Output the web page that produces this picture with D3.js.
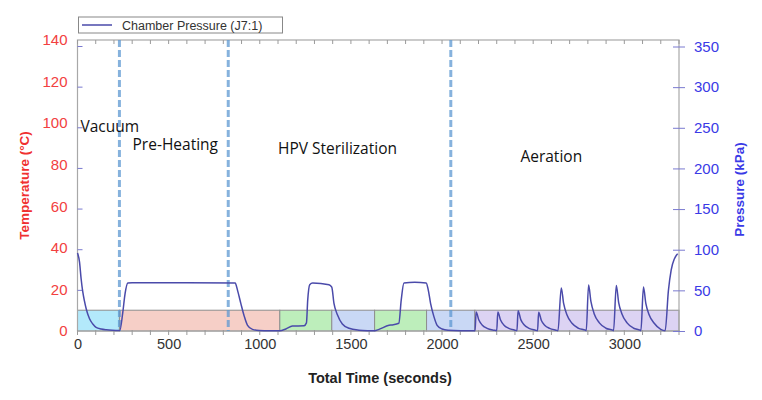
<!DOCTYPE html>
<html><head><meta charset="utf-8">
<script src="https://cdn.jsdelivr.net/npm/d3@7/dist/d3.min.js"></script>
<style>body{margin:0;background:#fff}svg{display:block}</style>
</head><body><svg id="c" width="762" height="400"></svg>
<script>
// ---- data ----
const timeTicks = [0, 500, 1000, 1500, 2000, 2500, 3000];
const tempTicks = [0, 20, 40, 60, 80, 100, 120, 140];
const pressTicks = [0, 50, 100, 150, 200, 250, 300, 350];
const phaseNames = ["Vacuum", "Pre-Heating", "HPV Sterilization", "Aeration"];
const phaseDividers = [230, 827, 2048];
const bandStart = [0, 230, 1110, 1395, 1630, 1915, 2180];
const bandEnd   = [230, 1110, 1395, 1630, 1915, 2180, 3300];
const bandColor = ["#b3e9fb", "#f6cfc7", "#bdeebb", "#c9d8f5", "#bdeebb", "#c9d8f5", "#dcd3f3"];
const bandTop = 10; // °C
const pressTime = [0, 11, 20, 29, 38, 48, 66, 84, 102, 130, 157, 190, 232,
  248, 261, 276, 300, 600, 865, 878, 896, 915, 933, 960, 997, 1050, 1110,
  1143, 1179, 1243, 1256, 1263, 1274, 1290, 1380, 1395, 1407, 1426, 1453, 1490, 1544, 1590, 1630,
  1654, 1709, 1727, 1763, 1776, 1791, 1850, 1913, 1924, 1937, 1955, 1973, 2000, 2033, 2100, 2181,
  2187, 2202, 2220, 2247, 2284, 2300,
  2306, 2321, 2339, 2366, 2400, 2411,
  2417, 2432, 2450, 2477, 2512, 2524,
  2530, 2545, 2563, 2590, 2625, 2636,
  2654, 2667, 2685, 2713, 2749, 2786, 2791,
  2804, 2817, 2835, 2863, 2899, 2936, 2941,
  2956, 2969, 2987, 3015, 3051, 3086, 3091,
  3105, 3118, 3136, 3164, 3200, 3224, 3242, 3257, 3275, 3293];
const pressKPa = [96, 85, 64, 48, 37, 27, 15, 8.6, 4.5, 2.5, 1.5, 0.8, 0.5,
  22, 46, 59, 59.5, 59.5, 59, 50, 34, 18, 7, 2, 0.6, 0.3, 0.3,
  2.5, 6, 6.5, 10, 38, 57, 59, 57, 54, 34, 20, 8.6, 3.3, 1, 0.4, 0.3,
  2, 7, 7.5, 9.5, 38, 59, 60, 59, 51, 34, 18, 7, 2.5, 1, 0.4, 0.3,
  23.5, 13.5, 7.4, 3.3, 1, 0.4,
  23.5, 13.5, 7.4, 3.3, 1, 0.4,
  25, 14, 7.6, 3.3, 1, 0.4,
  23, 13, 7.2, 3.2, 1, 0.4,
  53, 34, 20, 9.5, 3.3, 1, 0.4,
  56.5, 36, 21, 10, 3.4, 1, 0.4,
  56, 35, 21, 10, 3.4, 1, 0.4,
  54, 34, 20, 9.5, 2, 0.4, 50, 75, 89, 95];
const legendLabel = "Chamber Pressure (J7:1)";

// ---- layout ----
const svg = d3.select("#c");
const L = 77.5, R = 679, T = 40, B = 331;
const x = d3.scaleLinear().domain([0, 3300]).range([L, R]);
const yT = d3.scaleLinear().domain([0, 140]).range([B, T]);
const yP = d3.scaleLinear().domain([0, 358]).range([B, T]);
const lineCol = "#4a4aaa";

// bands
svg.append("g").selectAll("rect").data(bandStart).join("rect")
  .attr("x", (d) => x(d)).attr("width", (d, i) => x(bandEnd[i]) - x(d))
  .attr("y", yT(bandTop)).attr("height", yT(0) - yT(bandTop))
  .attr("fill", (d, i) => bandColor[i]).attr("stroke", "#8e8e8e").attr("stroke-width", 1);

// frame
svg.append("rect").attr("x", L).attr("y", T).attr("width", R - L).attr("height", B - T)
  .attr("fill", "none").attr("stroke", "#a8a8a8").attr("stroke-width", 1.2);

// bottom axis
const gx = svg.append("g").attr("transform", `translate(0,${B})`)
  .call(d3.axisBottom(x).tickValues(timeTicks).tickSize(0).tickPadding(8).tickFormat(d3.format("d")));
gx.select(".domain").remove();
gx.selectAll("text").attr("font-family", "Liberation Sans, Arial").attr("font-size", 14.5).attr("fill", "#333");
const minor = d3.range(0, 3301, 100);
svg.append("g").selectAll("line").data(minor).join("line")
  .attr("x1", (d) => x(d)).attr("x2", (d) => x(d)).attr("y1", B - 1).attr("y2", B + 4)
  .attr("stroke", "#9a9a9a").attr("stroke-width", 1);
svg.append("g").selectAll("line").data(minor).join("line")
  .attr("x1", (d) => x(d)).attr("x2", (d) => x(d)).attr("y1", T).attr("y2", T + 4)
  .attr("stroke", "#9a9a9a").attr("stroke-width", 1);

// left axis (temperature)
const gl = svg.append("g").attr("transform", `translate(${L},0)`)
  .call(d3.axisLeft(yT).tickValues(tempTicks).tickSize(0).tickPadding(10));
gl.select(".domain").remove();
gl.selectAll("text").attr("font-family", "Liberation Sans, Arial").attr("font-size", 15).attr("fill", "#f24040");
// left inner ticks at pressure positions
svg.append("g").selectAll("line").data(pressTicks.slice(1)).join("line")
  .attr("x1", L).attr("x2", L + 5).attr("y1", (d) => yP(d)).attr("y2", (d) => yP(d))
  .attr("stroke", "#7a7ad0").attr("stroke-width", 1);

// right axis (pressure)
const gr = svg.append("g").attr("transform", `translate(${R},0)`)
  .call(d3.axisRight(yP).tickValues(pressTicks).tickSize(6).tickPadding(9));
gr.select(".domain").remove();
gr.selectAll(".tick line").attr("x1", -6).attr("x2", 6).attr("stroke", "#7a7ad0");
gr.selectAll("text").attr("font-family", "Liberation Sans, Arial").attr("font-size", 15).attr("fill", "#3a3ae6");

// dashed phase dividers
svg.append("g").selectAll("line").data(phaseDividers).join("line")
  .attr("x1", (d) => x(d)).attr("x2", (d) => x(d)).attr("y1", T).attr("y2", B)
  .attr("stroke", "#5d98d2").attr("stroke-opacity", 0.75).attr("stroke-width", 3)
  .attr("stroke-dasharray", "7,3");

// pressure line
const pts = pressTime.map((t, i) => [t, pressKPa[i]]);
svg.append("path").datum(pts)
  .attr("d", d3.line().x((d) => x(d[0])).y((d) => yP(d[1])).curve(d3.curveMonotoneX))
  .attr("fill", "none").attr("stroke", lineCol).attr("stroke-width", 1.5);

// phase labels
const phaseX = [16, 302, 1100, 2430];
const phaseY = [132, 150, 154, 162];
svg.append("g").selectAll("text").data(phaseNames).join("text")
  .attr("x", (d, i) => x(phaseX[i])).attr("y", (d, i) => phaseY[i])
  .attr("font-family", "Open Sans, Noto Sans, sans-serif").attr("font-size", 15.5).attr("fill", "#111")
  .text((d) => d);

// axis titles
svg.append("text").attr("transform", `translate(29,${(T + B) / 2}) rotate(-90)`)
  .attr("text-anchor", "middle").attr("font-family", "Liberation Sans, Arial").attr("font-weight", "bold")
  .attr("font-size", 13.5).attr("fill", "#f03030").text("Temperature (°C)");
svg.append("text").attr("transform", `translate(744,${(T + B) / 2 + 4}) rotate(-90)`)
  .attr("text-anchor", "middle").attr("font-family", "Liberation Sans, Arial").attr("font-weight", "bold")
  .attr("font-size", 13.5).attr("fill", "#3a3ae6").text("Pressure (kPa)");
svg.append("text").attr("x", 380).attr("y", 383).attr("text-anchor", "middle")
  .attr("font-family", "Liberation Sans, Arial").attr("font-weight", "bold")
  .attr("font-size", 14.5).attr("fill", "#222").text("Total Time (seconds)");

// legend
const lg = svg.append("g");
lg.append("rect").attr("x", 78.5).attr("y", 17).attr("width", 204).attr("height", 16)
  .attr("fill", "#fff").attr("stroke", "#888").attr("stroke-width", 1);
lg.append("line").attr("x1", 82).attr("x2", 112).attr("y1", 25).attr("y2", 25)
  .attr("stroke", lineCol).attr("stroke-width", 1.5);
lg.append("text").attr("x", 122).attr("y", 29.5).attr("font-family", "Liberation Sans, Arial")
  .attr("font-size", 12.5).attr("fill", "#333").text(legendLabel);
</script></body></html>
